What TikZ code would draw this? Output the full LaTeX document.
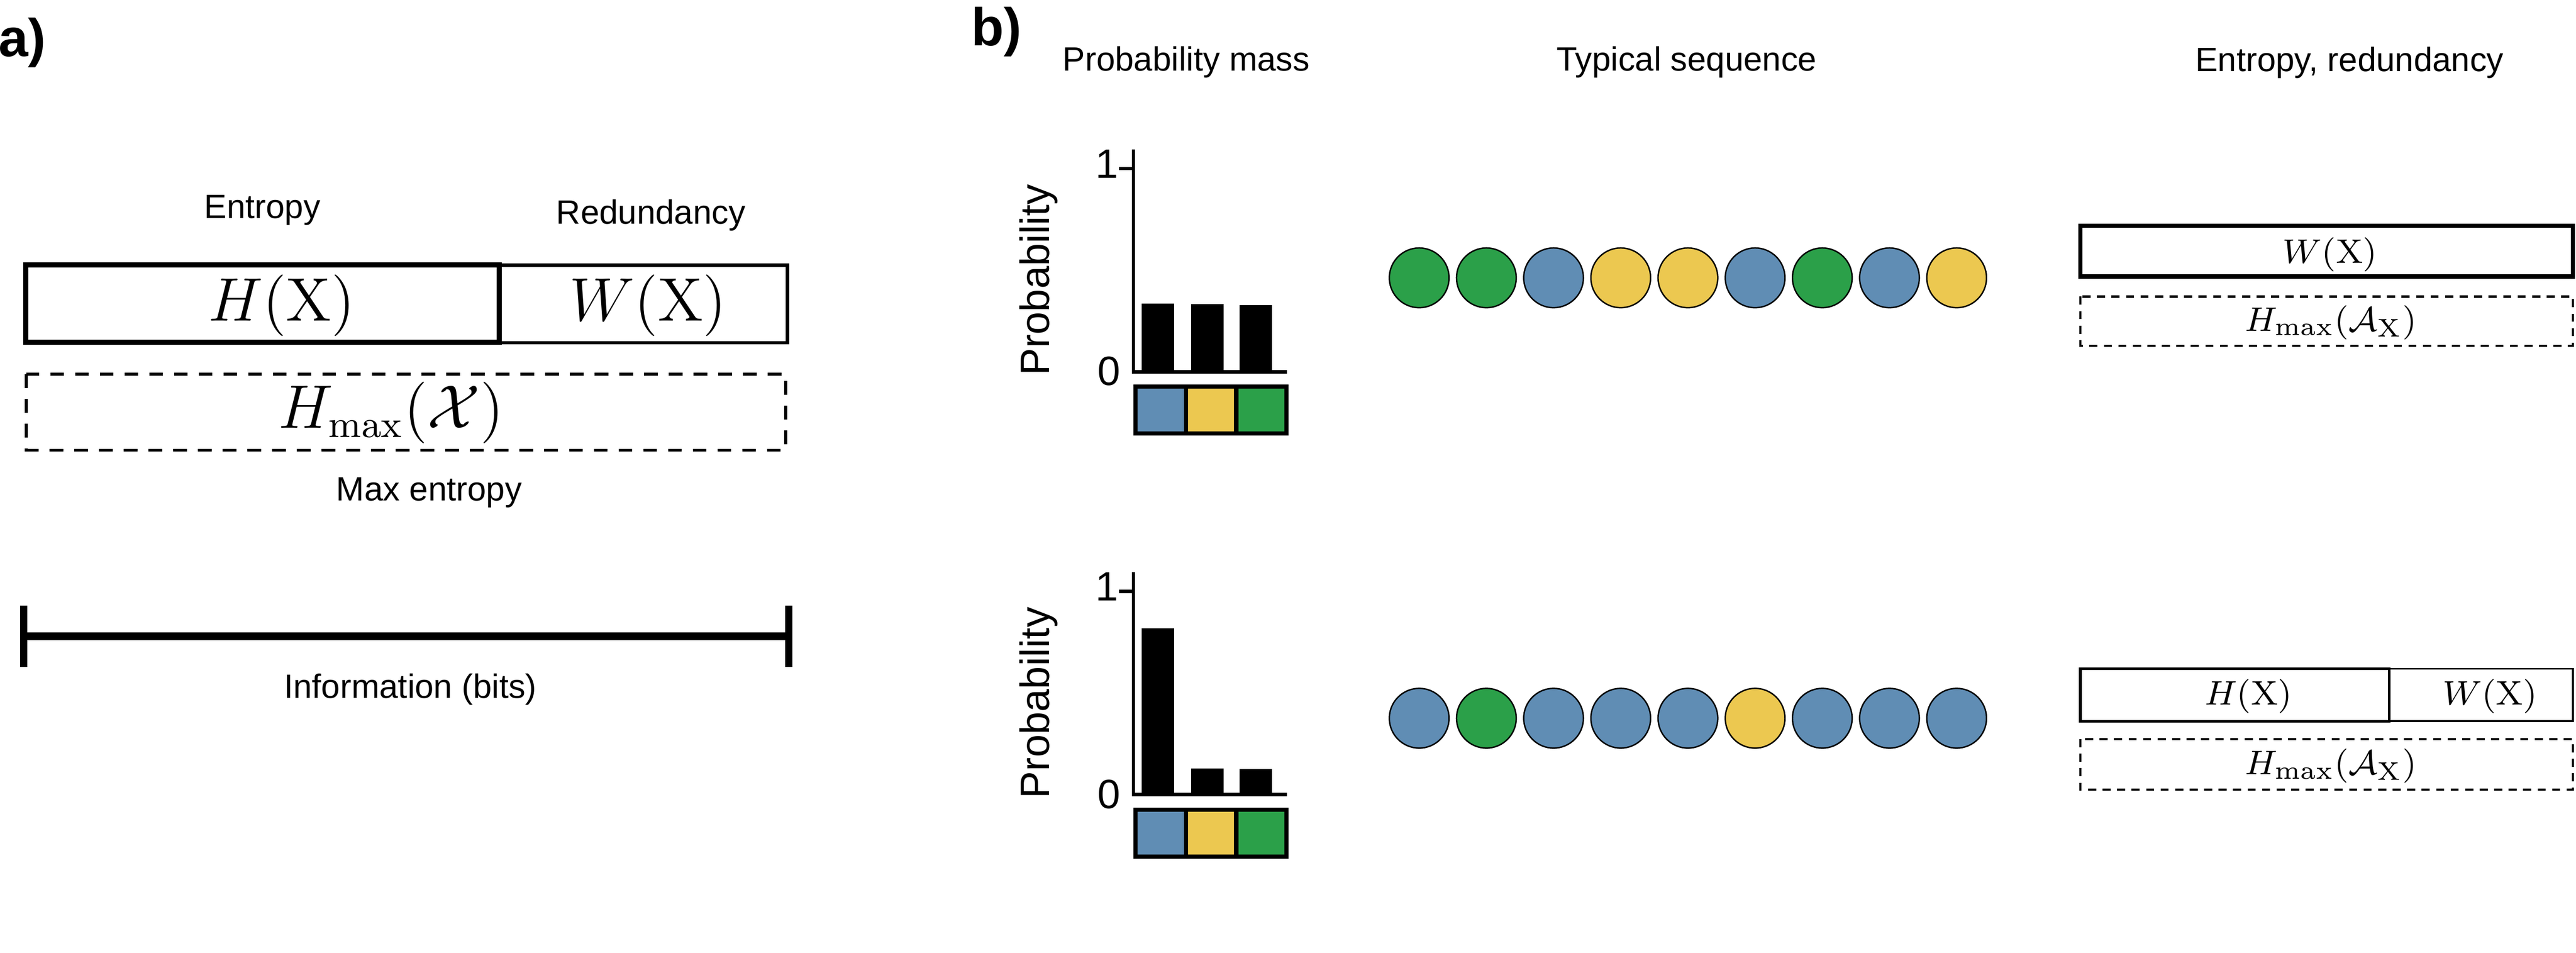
\documentclass[tikz,border=0pt]{standalone}
\usepackage[no-math]{fontspec}
\newfontfamily\arialfont{Liberation Sans}
\definecolor{seqblue}{RGB}{96,141,180}
\definecolor{seqyellow}{RGB}{236,200,80}
\definecolor{seqgreen}{RGB}{43,160,73}

\begin{document}
\begin{tikzpicture}[x=10pt,y=-10pt,
  lab/.style={font=\arialfont\fontsize{7.9}{9}\selectfont},
  panel/.style={font=\arialfont\bfseries\fontsize{12.5}{14}\selectfont},
  axlab/.style={font=\arialfont\fontsize{9.6}{11}\selectfont},
  bigmath/.style={font=\fontsize{13.5}{15}\selectfont},
  smallmath/.style={font=\fontsize{8.5}{10}\selectfont},
  maxbox/.style={line width=0.7pt, dash pattern=on 3.2pt off 2.6pt},
  smallmaxbox/.style={line width=0.5pt, dash pattern=on 1.9pt off 1.5pt},
  symb/.style={circle, draw=black, line width=0.33pt, minimum size=14pt, inner sep=0pt}]
\useasboundingbox (0,0) rectangle (60.39,22.33);

\node[panel] (pa) at (0.52,1.0) {a)};
\node[lab] (entlab) at (6.15,4.92) {Entropy};
\node[lab] (redlab) at (15.26,5.04) {Redundancy};
\draw[line width=0.8pt] (11.70,6.21) rectangle (18.46,8.03);
\draw[line width=1.2pt] (0.60,6.21) rectangle (11.70,8.02);
\node[bigmath] (hx) at (6.60,7.16) {$H(\mathrm{X})$};
\node[bigmath] (wx) at (15.19,7.16) {$W(\mathrm{X})$};
\draw[maxbox] (0.62,8.77) rectangle (18.42,10.55);
\node[bigmath] (hmax) at (9.17,9.67) {$H_{\max}(\mathcal{X})$};
\node[lab] (maxlab) at (10.06,11.54) {Max entropy};

\coordinate (infoL) at (0.55,14.91);
\coordinate (infoR) at (18.49,14.91);
\draw[line width=1.9pt] (infoL) -- (infoR);
\draw[line width=1.7pt] ([yshift=7.2pt]infoL) -- ([yshift=-7.2pt]infoL);
\draw[line width=1.7pt] ([yshift=7.2pt]infoR) -- ([yshift=-7.2pt]infoR);
\node[lab] (infolab) at (9.62,16.16) {Information (bits)};

\node[panel] (pb) at (23.36,0.75) {b)};
\node[lab] (pmlab) at (27.81,1.45) {Probability mass};
\node[lab] (tslab) at (39.54,1.45) {Typical sequence};
\node[lab] (erlab) at (55.08,1.47) {Entropy, redundancy};

\foreach \dy/\pa/\pb/\pc in {0/0.336/0.332/0.328, 9.91/0.82/0.128/0.126}{
  \begin{scope}[shift={(0,\dy)}]
    \draw[line width=0.8pt] (26.57,3.50) -- (26.57,8.71) -- (30.17,8.71);
    \draw[line width=0.8pt] (26.23,3.95) -- (26.57,3.95);
    \node[axlab] at (25.95,3.84) {1};
    \node[axlab] at (26.00,8.70) {0};
    \node[axlab, rotate=90] at (24.35,6.56) {Probability};
    \fill (26.77,8.71) rectangle ++(0.76,-4.76*\pa);
    \fill (27.92,8.71) rectangle ++(0.76,-4.76*\pb);
    \fill (29.06,8.71) rectangle ++(0.76,-4.76*\pc);
    \fill[seqblue] (26.62,9.06) rectangle (27.80,10.16);
    \fill[seqyellow] (27.80,9.06) rectangle (28.98,10.16);
    \fill[seqgreen] (28.98,9.06) rectangle (30.16,10.16);
    \draw[line width=1pt] (26.62,9.06) rectangle (30.16,10.16);
    \draw[line width=1pt] (27.80,9.06) -- (27.80,10.16) (28.98,9.06) -- (28.98,10.16);
  \end{scope}
}

\foreach \c [count=\i from 0] in {seqgreen,seqgreen,seqblue,seqyellow,seqyellow,seqblue,seqgreen,seqblue,seqyellow}
  \node[symb, fill=\c] (top\i) at (33.27+1.575*\i,6.51) {};
\foreach \c [count=\i from 0] in {seqblue,seqgreen,seqblue,seqblue,seqblue,seqyellow,seqblue,seqblue,seqblue}
  \node[symb, fill=\c] (bot\i) at (33.27+1.575*\i,16.83) {};

\draw[line width=1pt] (48.77,5.29) rectangle (60.32,6.48);
\node[smallmath] (wtop) at (54.62,5.96) {$W(\mathrm{X})$};
\draw[smallmaxbox] (48.77,6.95) rectangle (60.32,8.10);
\node[smallmath] (hmaxtop) at (54.64,7.56) {$H_{\max}(\mathcal{A}_{\mathrm{X}})$};

\draw[line width=0.45pt] (56.01,15.67) rectangle (60.32,16.90);
\draw[line width=0.65pt] (48.77,15.67) rectangle (56.01,16.90);
\node[smallmath] (hbot) at (52.71,16.31) {$H(\mathrm{X})$};
\node[smallmath] (wbot) at (58.37,16.31) {$W(\mathrm{X})$};
\draw[smallmaxbox] (48.77,17.32) rectangle (60.32,18.50);
\node[smallmath] (hmaxbot) at (54.64,17.95) {$H_{\max}(\mathcal{A}_{\mathrm{X}})$};
\end{tikzpicture}
\end{document}
